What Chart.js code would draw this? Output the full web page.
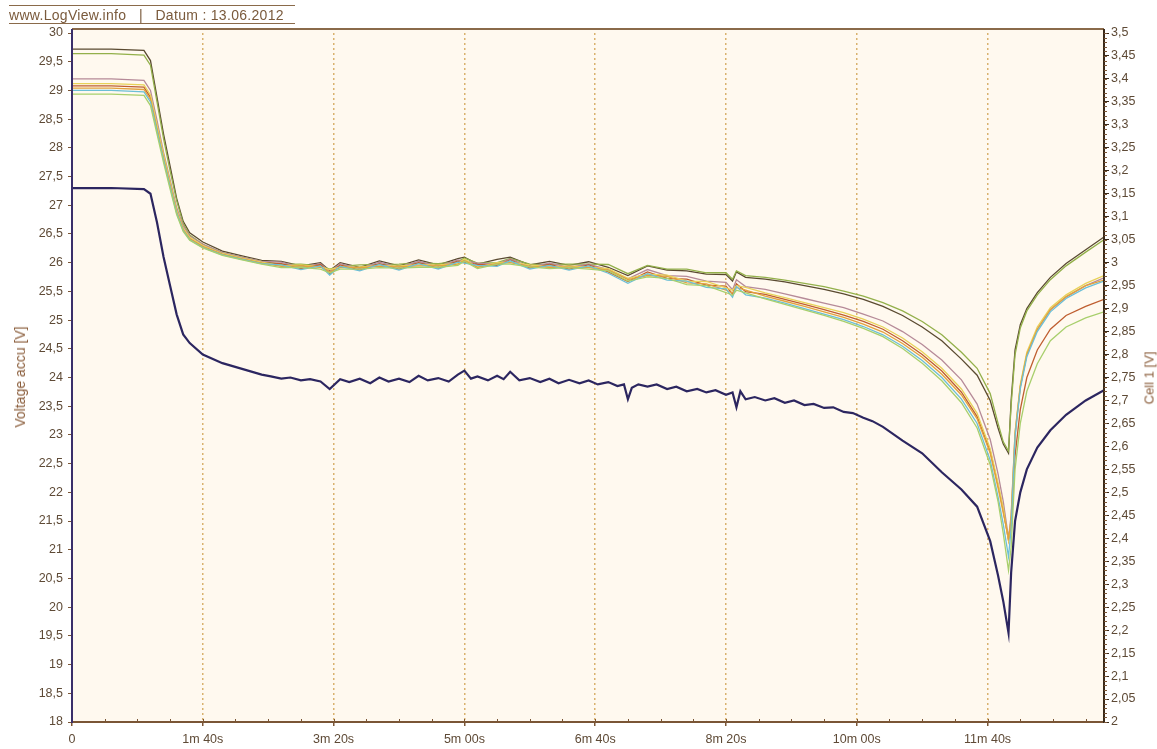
<!DOCTYPE html>
<html lang="de">
<head>
  <meta charset="UTF-8" />
  <title>LogView</title>
  <style>
    body {
      margin: 0;
      padding: 0;
      background: #fff;
      font-family: Arial, "Liberation Sans", sans-serif;
    }
    #wrap {
      position: relative;
      width: 1157px;
      height: 749px;
    }
    #header {
      position: absolute;
      left: 9px;
      top: 5px;
      width: 286px;
      border-top: 1px solid #8a6a4a;
      border-bottom: 1px solid #8a6a4a;
      padding-top: 2px;
      font-size: 14px;
      line-height: 15px;
      letter-spacing: 0.3px;
      color: #7a5a3c;
      white-space: pre;
    }
    .axisTitle {
      position: absolute;
      color: #8b5e3c;
      white-space: nowrap;
      transform: translate(-50%, -50%) rotate(-90deg);
    }
  </style>
</head>
<body>
  <div id="wrap">
    <canvas id="chart" width="1157" height="749"></canvas>
    <div id="header">www.LogView.info   |   Datum : 13.06.2012</div>
    <div class="axisTitle" style="left:20px; top:377px; font-size:14px;">Voltage accu [V]</div>
    <div class="axisTitle" style="left:1149px; top:378px; font-size:13px;">Cell 1 [V]</div>
  </div>

  <script src="https://cdn.jsdelivr.net/npm/chart.js"></script>
  <script>
    // time in seconds for the pack voltage
    const accuTimes = [0,30,55,60,65,70,75,80,85,90,100,115,130,
      145,152,160,167,175,182,190,197,205,212,220,228,235,242,250,258,265,272,280,288,
      295,300,305,310,318,325,330,335,342,350,358,365,372,380,388,395,402,410,417,422,
      425,428,433,440,447,455,462,470,478,485,492,500,505,508,511,515,522,530,537,545,
      552,560,567,575,582,590,597,605,612,620,
      635,650,665,680,692,702,708,712,716,718,721,725,730,738,748,760,775,789];

    // pack voltage (left axis)
    const accu = [27.3,27.3,27.28,27.2,26.7,26.1,25.6,25.1,24.75,24.6,24.4,24.25,24.15,
      24.05,24.02,23.98,24.0,23.95,23.97,23.93,23.8,23.97,23.92,23.98,23.9,24.0,23.93,23.98,23.92,24.03,23.95,23.99,23.93,
      24.05,24.12,23.98,24.02,23.95,24.03,23.97,24.1,23.95,23.99,23.92,23.98,23.9,23.96,23.9,23.95,23.88,23.92,23.85,23.88,
      23.62,23.82,23.88,23.84,23.88,23.8,23.84,23.76,23.8,23.74,23.78,23.7,23.74,23.48,23.76,23.62,23.66,23.6,23.64,23.56,
      23.6,23.52,23.54,23.47,23.48,23.4,23.38,23.3,23.24,23.14,
      22.9,22.68,22.35,22.05,21.75,21.15,20.55,20.1,19.55,20.6,21.5,22.0,22.4,22.78,23.08,23.35,23.6,23.78];

    // time in seconds for the single cells
    const cellTimes = [0,30,55,60,65,70,75,80,85,90,100,115,130,145,
      160,175,190,197,205,220,235,250,265,280,295,300,310,325,335,350,365,380,395,410,425,440,455,470,485,500,505,508,515,
      530,545,560,575,590,605,620,635,650,665,680,692,702,708,712,716,718,721,725,730,738,748,760,775,789];

    // single cells (right axis)
    const cell1 = [3.465,3.465,3.462,3.44,3.36,3.28,3.21,3.14,3.09,3.065,3.045,3.025,3.015,3.005,
      3.003,2.993,3.0,2.983,3.0,2.99,3.004,2.993,3.006,2.995,3.009,3.012,2.997,3.007,3.012,2.995,3.003,2.994,3.002,2.99,2.972,2.993,2.984,2.982,2.975,2.974,2.96,2.98,2.968,
      2.964,2.958,2.95,2.942,2.932,2.92,2.905,2.885,2.86,2.83,2.79,2.755,2.70,2.64,2.605,2.585,2.70,2.81,2.865,2.9,2.935,2.968,2.998,3.028,3.056];
    const cell2 = [3.455,3.455,3.452,3.43,3.35,3.27,3.2,3.135,3.085,3.06,3.04,3.022,3.012,3.003,
      2.996,2.997,2.993,2.986,2.992,2.995,2.996,2.997,2.999,2.998,3.002,3.01,2.999,3.0,3.009,2.997,2.996,2.997,2.997,2.996,2.976,2.994,2.986,2.986,2.978,2.978,2.964,2.982,2.972,
      2.968,2.962,2.955,2.948,2.938,2.927,2.913,2.895,2.872,2.843,2.805,2.77,2.715,2.65,2.61,2.59,2.69,2.8,2.858,2.895,2.93,2.963,2.993,3.023,3.05];
    const cell3 = [3.40,3.40,3.397,3.375,3.31,3.24,3.18,3.12,3.08,3.058,3.04,3.022,3.012,3.003,
      3.001,2.99,2.998,2.98,2.998,2.987,3.001,2.99,3.003,2.992,3.006,3.004,2.999,2.997,3.008,2.991,2.999,2.99,2.997,2.985,2.965,2.985,2.972,2.97,2.96,2.957,2.941,2.963,2.948,
      2.942,2.932,2.922,2.912,2.902,2.888,2.873,2.85,2.822,2.788,2.745,2.692,2.615,2.54,2.48,2.40,2.45,2.63,2.73,2.8,2.855,2.897,2.925,2.95,2.967];
    const cell4 = [3.39,3.39,3.387,3.365,3.30,3.235,3.175,3.115,3.075,3.055,3.037,3.02,3.01,3.001,
      2.993,2.995,2.991,2.985,2.99,2.991,2.993,2.993,2.995,2.995,2.998,3.008,2.99,3.0,3.001,2.995,2.991,2.993,2.99,2.987,2.966,2.975,2.973,2.96,2.959,2.945,2.94,2.95,2.946,
      2.934,2.924,2.913,2.902,2.891,2.877,2.86,2.836,2.806,2.77,2.725,2.672,2.595,2.52,2.465,2.395,2.44,2.63,2.735,2.805,2.86,2.902,2.93,2.955,2.972];
    const cell5 = [3.385,3.385,3.382,3.36,3.295,3.23,3.17,3.112,3.073,3.053,3.036,3.019,3.009,3.0,
      2.998,2.987,2.996,2.976,2.995,2.984,2.998,2.986,3.0,2.988,3.003,3.001,2.996,2.994,3.006,2.988,2.996,2.986,2.995,2.98,2.959,2.98,2.966,2.964,2.951,2.949,2.932,2.954,2.937,
      2.931,2.92,2.909,2.898,2.886,2.872,2.855,2.83,2.8,2.764,2.718,2.665,2.59,2.515,2.46,2.395,2.43,2.58,2.68,2.75,2.81,2.855,2.885,2.905,2.92];
    const cell6 = [3.367,3.367,3.364,3.342,3.28,3.218,3.16,3.105,3.068,3.049,3.032,3.016,3.006,2.997,
      2.989,2.99,2.986,2.978,2.986,2.986,2.989,2.988,2.99,2.99,2.994,3.003,2.987,2.997,2.997,2.991,2.987,2.989,2.986,2.982,2.96,2.969,2.966,2.952,2.95,2.935,2.929,2.94,2.934,
      2.921,2.909,2.897,2.885,2.872,2.857,2.839,2.813,2.781,2.743,2.695,2.64,2.56,2.48,2.41,2.33,2.38,2.55,2.65,2.72,2.78,2.83,2.86,2.88,2.893];
    const cell7 = [3.375,3.375,3.372,3.35,3.287,3.224,3.165,3.108,3.07,3.05,3.033,3.017,3.007,2.998,
      2.995,2.985,2.993,2.973,2.992,2.982,2.996,2.984,2.998,2.986,3.001,2.999,2.994,2.992,3.004,2.986,2.994,2.984,2.993,2.977,2.955,2.976,2.962,2.96,2.946,2.943,2.925,2.948,2.93,
      2.923,2.912,2.9,2.888,2.876,2.861,2.843,2.818,2.787,2.75,2.703,2.65,2.57,2.49,2.43,2.36,2.42,2.62,2.725,2.795,2.85,2.893,2.922,2.945,2.96];
    const cell8 = [3.38,3.38,3.377,3.355,3.29,3.227,3.168,3.11,3.072,3.052,3.035,3.018,3.008,2.999,
      2.992,2.993,2.99,2.98,2.989,2.989,2.992,2.991,2.993,2.993,2.997,3.005,2.99,2.998,3.0,2.992,2.99,2.99,2.989,2.984,2.963,2.972,2.97,2.956,2.954,2.94,2.934,2.946,2.94,
      2.927,2.916,2.905,2.893,2.881,2.866,2.849,2.824,2.794,2.757,2.712,2.66,2.585,2.51,2.455,2.40,2.44,2.625,2.73,2.8,2.855,2.898,2.926,2.95,2.962];

    // axis ticks
    const xTickValues = [0, 100, 200, 300, 400, 500, 600, 700];
    const xTickLabels = ['0', '1m 40s', '3m 20s', '5m 00s', '6m 40s', '8m 20s', '10m 00s', '11m 40s'];
    const leftTicks = [18,18.5,19,19.5,20,20.5,21,21.5,22,22.5,23,23.5,24,24.5,25,25.5,26,26.5,27,27.5,28,28.5,29,29.5,30];
    const rightTicks = [2,2.05,2.1,2.15,2.2,2.25,2.3,2.35,2.4,2.45,2.5,2.55,2.6,2.65,2.7,2.75,2.8,2.85,2.9,2.95,3,3.05,3.1,3.15,3.2,3.25,3.3,3.35,3.4,3.45,3.5];

    const pts = (ts, vals) => ts.map((t, i) => ({ x: t, y: vals[i] }));
    const comma = v => String(v).replace('.', ',');

    const cellSets = [
      { label: 'Cell 6', data: cell6, color: '#a8cf6c' },
      { label: 'Cell 7', data: cell7, color: '#6cbfd6' },
      { label: 'Cell 8', data: cell8, color: '#e2a23e' },
      { label: 'Cell 4', data: cell4, color: '#e8d258' },
      { label: 'Cell 5', data: cell5, color: '#bf5e30' },
      { label: 'Cell 3', data: cell3, color: '#b68a98' },
      { label: 'Cell 2', data: cell2, color: '#93b04a' },
      { label: 'Cell 1', data: cell1, color: '#5a4a30' }
    ];

    const datasets = cellSets.map(c => ({
      label: c.label,
      data: pts(cellTimes, c.data),
      yAxisID: 'yR',
      borderColor: c.color,
      borderWidth: 1.3,
      pointRadius: 0,
      tension: 0
    }));
    datasets.push({
      label: 'Voltage accu',
      data: pts(accuTimes, accu),
      yAxisID: 'yL',
      borderColor: '#2c2660',
      borderWidth: 2.2,
      pointRadius: 0,
      tension: 0
    });

    const frame = {
      id: 'frame',
      beforeDraw(chart) {
        const { ctx, chartArea: a } = chart;
        ctx.save();
        ctx.fillStyle = '#ffffff';
        ctx.fillRect(0, 0, chart.width, chart.height);
        ctx.fillStyle = '#fff9ef';
        ctx.fillRect(a.left, 29, a.right - a.left, a.bottom - 29);
        ctx.restore();
      },
      afterDraw(chart) {
        const { ctx, chartArea: a, scales } = chart;
        ctx.save();
        ctx.strokeStyle = '#8a6a4a';
        ctx.lineWidth = 2;
        ctx.beginPath();
        ctx.moveTo(a.left, 29);
        ctx.lineTo(a.right, 29);
        ctx.stroke();
        ctx.strokeStyle = '#3a2f6a';
        ctx.beginPath();
        ctx.moveTo(a.left, 29);
        ctx.lineTo(a.left, a.bottom);
        ctx.stroke();
        ctx.strokeStyle = '#3a2a1a';
        ctx.beginPath();
        ctx.moveTo(a.right, 29);
        ctx.lineTo(a.right, a.bottom);
        ctx.stroke();
        // minor ticks
        ctx.strokeStyle = '#7a5535';
        ctx.lineWidth = 1;
        ctx.beginPath();
        for (let v = 200; v <= 350; v += 1) {
          const y = Math.round(scales.yR.getPixelForValue(v / 100)) + 0.5;
          ctx.moveTo(a.right, y);
          ctx.lineTo(a.right + 3, y);
        }
        for (let t = 25; t < 789; t += 25) {
          const x = Math.round(scales.x.getPixelForValue(t)) + 0.5;
          ctx.moveTo(x, a.bottom);
          ctx.lineTo(x, a.bottom - 3);
        }
        ctx.stroke();
        ctx.restore();
      }
    };

    const tickFont = { family: 'Arial', size: 12.5 };
    const tickColor = '#5e4a36';

    new Chart(document.getElementById('chart'), {
      type: 'line',
      data: { datasets },
      options: {
        responsive: false,
        animation: false,
        layout: { padding: { top: 33, left: 0, right: 0, bottom: 0 } },
        plugins: {
          legend: { display: false },
          tooltip: { enabled: false }
        },
        scales: {
          x: {
            type: 'linear',
            min: 0,
            max: 789,
            afterBuildTicks: s => { s.ticks = xTickValues.map(v => ({ value: v })); },
            afterFit: s => { s.height = 27; },
            ticks: {
              autoSkip: false,
              maxRotation: 0,
              color: tickColor,
              font: tickFont,
              padding: 6,
              callback: v => xTickLabels[xTickValues.indexOf(v)]
            },
            grid: {
              color: ctx => ctx.tick && ctx.tick.value === 0 ? 'rgba(0,0,0,0)' : '#d9b26e',
              lineWidth: 1.5,
              drawTicks: true,
              tickLength: 4,
              tickColor: '#7a5535'
            },
            border: { display: true, color: '#7a5535', width: 2, dash: [2, 3] }
          },
          yL: {
            type: 'linear',
            position: 'left',
            min: 18,
            max: 30,
            afterBuildTicks: s => { s.ticks = leftTicks.map(v => ({ value: v })); },
            afterFit: s => { s.width = 72; },
            ticks: {
              color: tickColor,
              font: tickFont,
              padding: 5,
              callback: v => comma(v)
            },
            grid: { drawOnChartArea: false, drawTicks: true, tickLength: 4, tickColor: '#7a5535' },
            border: { display: true, color: '#3a2f6a', width: 2 }
          },
          yR: {
            type: 'linear',
            position: 'right',
            min: 2,
            max: 3.5,
            afterBuildTicks: s => { s.ticks = rightTicks.map(v => ({ value: v })); },
            afterFit: s => { s.width = 53; },
            ticks: {
              color: tickColor,
              font: tickFont,
              padding: 2,
              callback: v => comma(Math.round(v * 100) / 100)
            },
            grid: { drawOnChartArea: false, drawTicks: true, tickLength: 5, tickColor: '#3a2a1a' },
            border: { display: true, color: '#3a2a1a', width: 2 }
          }
        }
      },
      plugins: [frame]
    });
  </script>
</body>
</html>
